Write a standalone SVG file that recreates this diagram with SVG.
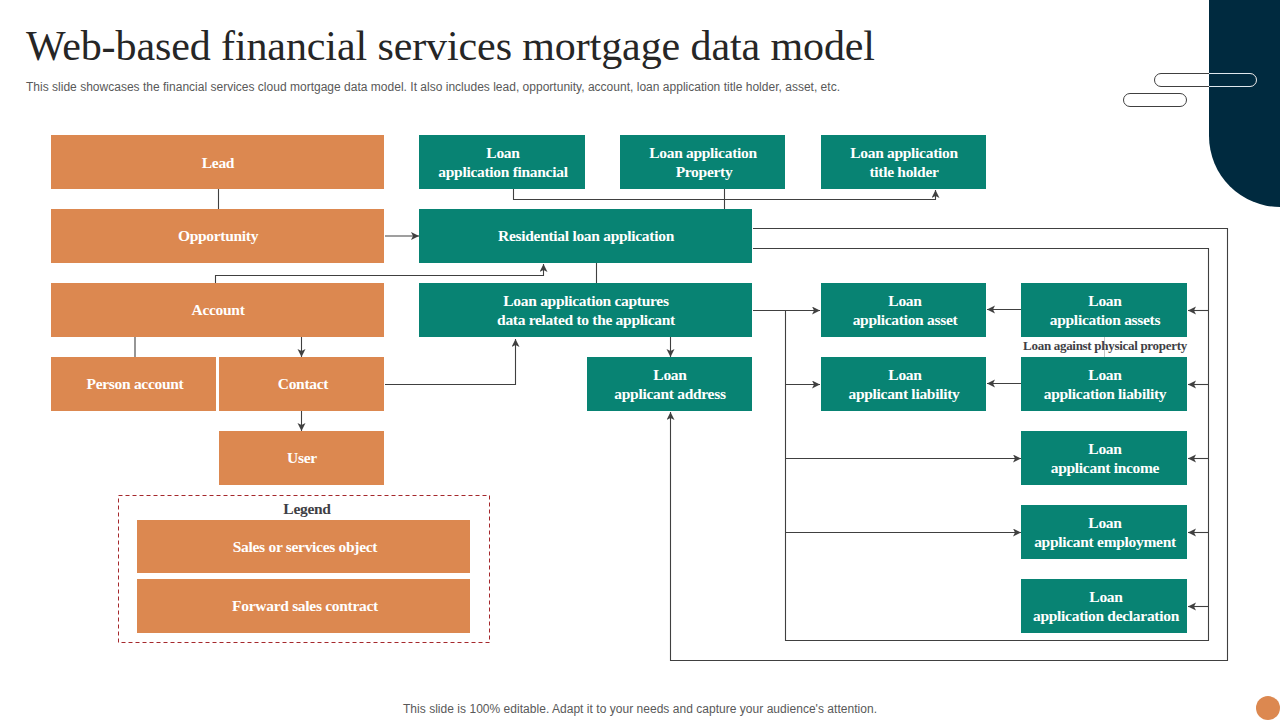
<svg xmlns="http://www.w3.org/2000/svg" width="1280" height="720" viewBox="0 0 1280 720">
<style>
.o{fill:#dc8850}.g{fill:#088373}
.t{font-family:"Liberation Serif","Times New Roman",serif;font-size:15.5px;font-weight:700;fill:#fff;text-anchor:middle;letter-spacing:-0.3px}
.c{fill:none;stroke:#404040;stroke-width:1.1}
.s{font-family:"Liberation Sans",Arial,sans-serif;font-size:12px;fill:#595959}
</style>
<defs><marker id="a" markerUnits="userSpaceOnUse" markerWidth="9" markerHeight="9" refX="8" refY="4" orient="auto"><path d="M0 0L8 4L0 8L2 4Z" fill="#404040"/></marker></defs>
<rect width="1280" height="720" fill="#fff"/>
<g id="decor">
<path d="M1209 0H1280V207A71 71 0 0 1 1209 136Z" fill="#002a3f"/>
<rect x="1154.500" y="73.500" width="102" height="13" rx="6.500" fill="none" stroke="#404040" stroke-width="1"/>
<path d="M1209 73.500H1250A6.500 6.500 0 0 1 1250 86.500H1209" fill="none" stroke="#dfe8ee" stroke-width="1"/>
<rect x="1123.500" y="93.500" width="63" height="13" rx="6.500" fill="none" stroke="#404040" stroke-width="1"/>
<circle cx="1268" cy="708" r="12" fill="#dc8850"/>
</g>
<text id="title" x="26" y="60" font-family="'Liberation Serif','Times New Roman',serif" font-size="42" fill="#262626" textLength="849" lengthAdjust="spacing">Web-based financial services mortgage data model</text>
<text id="subtitle" class="s" x="26" y="91" textLength="814" lengthAdjust="spacing">This slide showcases the financial services cloud mortgage data model. It also includes lead, opportunity, account, loan application title holder, asset, etc.</text>
<g id="connectors">
<path class="c" d="M218.500 189V209M135 337V357"/>
<path class="c" d="M385 236H419" marker-end="url(#a)"/>
<path class="c" d="M215.500 283V275.500H543.500V264" marker-end="url(#a)"/>
<path class="c" d="M596.500 263V283M724.500 189V209"/>
<path class="c" d="M513.500 189V199.500H935.500V190" marker-end="url(#a)"/>
<path class="c" d="M753 228.500H1227.500V660.500H670.500V412" marker-end="url(#a)"/>
<path class="c" d="M753 248.500H1208.500V640.500H785.500V311"/>
<path class="c" d="M753 310.500H820" marker-end="url(#a)"/>
<path class="c" d="M670.500 337V357" marker-end="url(#a)"/>
<path class="c" d="M786 384.500H820" marker-end="url(#a)"/>
<path class="c" d="M786 458.500H1021" marker-end="url(#a)"/>
<path class="c" d="M786 532.500H1021" marker-end="url(#a)"/>
<path class="c" d="M1208 310.500H1188" marker-end="url(#a)"/>
<path class="c" d="M1208 384.500H1188" marker-end="url(#a)"/>
<path class="c" d="M1208 458.500H1188" marker-end="url(#a)"/>
<path class="c" d="M1208 532.500H1188" marker-end="url(#a)"/>
<path class="c" d="M1208 606.500H1188" marker-end="url(#a)"/>
<path class="c" d="M1021 309.500H987" marker-end="url(#a)"/>
<path class="c" d="M1021 383.500H987" marker-end="url(#a)"/>
<path class="c" d="M301.500 337V357" marker-end="url(#a)"/>
<path class="c" d="M301.500 411V431" marker-end="url(#a)"/>
<path class="c" d="M385 384.500H515.500V339" marker-end="url(#a)"/>
<path d="M1104.500 337V357" fill="none" stroke="#c8c8c8" stroke-width="1"/>
</g>
<g id="lead"><rect class="o" x="51" y="135" width="333" height="54"/><text class="t" x="218" y="168">Lead</text></g>
<g id="opportunity"><rect class="o" x="51" y="209" width="333" height="54"/><text class="t" x="218" y="241">Opportunity</text></g>
<g id="account"><rect class="o" x="51" y="283" width="333" height="54"/><text class="t" x="218" y="315">Account</text></g>
<g id="person-account"><rect class="o" x="51" y="357" width="165" height="54"/><text class="t" x="135" y="389">Person account</text></g>
<g id="contact"><rect class="o" x="219" y="357" width="165" height="54"/><text class="t" x="303" y="389">Contact</text></g>
<g id="user"><rect class="o" x="219" y="431" width="165" height="54"/><text class="t" x="302" y="463">User</text></g>
<g id="legend">
<rect x="118.500" y="495.500" width="371" height="147" fill="none" stroke="#a5282c" stroke-width="1" stroke-dasharray="4 3"/>
<text class="t" x="307" y="514" style="fill:#3f3f46">Legend</text>
<rect class="o" x="137" y="520" width="333" height="53"/><text class="t" x="305" y="552">Sales or services object</text>
<rect class="o" x="137" y="579" width="333" height="54"/><text class="t" x="305" y="611">Forward sales contract</text>
</g>
<g id="loan-financial"><rect class="g" x="419" y="135" width="166" height="54"/><text class="t" x="503" y="158">Loan</text><text class="t" x="503" y="177">application financial</text></g>
<g id="loan-property"><rect class="g" x="620" y="135" width="165" height="54"/><text class="t" x="703" y="158">Loan application</text><text class="t" x="704" y="177">Property</text></g>
<g id="loan-title-holder"><rect class="g" x="821" y="135" width="165" height="54"/><text class="t" x="904" y="158">Loan application</text><text class="t" x="904" y="177">title holder</text></g>
<g id="residential"><rect class="g" x="419" y="209" width="333" height="54"/><text class="t" x="586" y="241">Residential loan application</text></g>
<g id="captures"><rect class="g" x="419" y="283" width="333" height="54"/><text class="t" x="586" y="306">Loan application captures</text><text class="t" x="586" y="325">data related to the applicant</text></g>
<g id="applicant-address"><rect class="g" x="587" y="357" width="165" height="54"/><text class="t" x="670" y="380">Loan</text><text class="t" x="670" y="399">applicant address</text></g>
<g id="application-asset"><rect class="g" x="821" y="283" width="165" height="54"/><text class="t" x="905" y="306">Loan</text><text class="t" x="905" y="325">application asset</text></g>
<g id="applicant-liability"><rect class="g" x="821" y="357" width="165" height="54"/><text class="t" x="905" y="380">Loan</text><text class="t" x="904" y="399">applicant liability</text></g>
<g id="application-assets"><rect class="g" x="1021" y="283" width="166" height="54"/><text class="t" x="1105" y="306">Loan</text><text class="t" x="1105" y="325">application assets</text></g>
<text id="physical" class="t" x="1105" y="350" style="fill:#3f3f46;font-size:13px">Loan against physical property</text>
<g id="application-liability"><rect class="g" x="1021" y="357" width="166" height="54"/><text class="t" x="1105" y="380">Loan</text><text class="t" x="1105" y="399">application liability</text></g>
<g id="applicant-income"><rect class="g" x="1021" y="431" width="166" height="54"/><text class="t" x="1105" y="454">Loan</text><text class="t" x="1105" y="473">applicant income</text></g>
<g id="applicant-employment"><rect class="g" x="1021" y="505" width="166" height="54"/><text class="t" x="1105" y="528">Loan</text><text class="t" x="1105" y="547">applicant employment</text></g>
<g id="application-declaration"><rect class="g" x="1021" y="579" width="166" height="54"/><text class="t" x="1106" y="602">Loan</text><text class="t" x="1106" y="621">application declaration</text></g>
<text id="footer" class="s" x="640" y="713" text-anchor="middle" textLength="474" lengthAdjust="spacing">This slide is 100% editable. Adapt it to your needs and capture your audience's attention.</text>
</svg>
